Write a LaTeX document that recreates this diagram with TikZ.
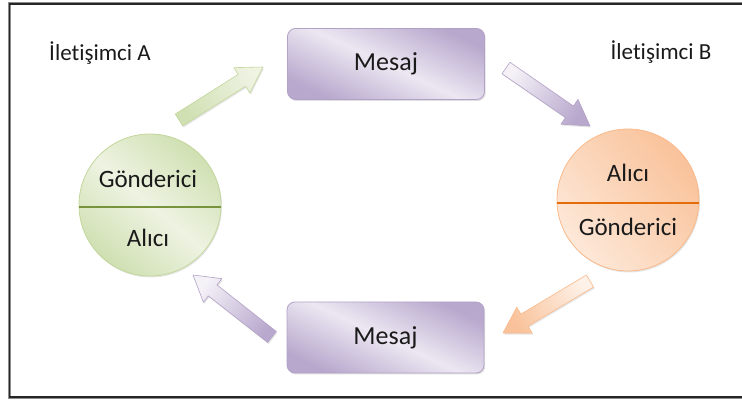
\documentclass[tikz,border=0pt]{standalone}
\usepackage{fontspec}
\setmainfont{Carlito}[Ligatures=NoCommon]
\usetikzlibrary{calc,shadows}

\definecolor{txt}{HTML}{1A1A1A}
\definecolor{grnLine}{HTML}{77933C}
\definecolor{grnEdge}{HTML}{C3D69B}
\definecolor{grnDark}{HTML}{D0E0B2}
\definecolor{grnLight}{HTML}{EEF3E2}
\definecolor{orgLine}{HTML}{E46C0A}
\definecolor{orgEdge}{HTML}{F9B98A}
\definecolor{orgDark}{HTML}{F9C29A}
\definecolor{orgLight}{HTML}{FDE8D8}
\definecolor{purEdge}{HTML}{B3A2C7}
\definecolor{purDark}{HTML}{B8A8CD}
\definecolor{purLight}{HTML}{ECE7F2}

\tikzset{
  label text/.style={font=\fontsize{23}{27}\selectfont, text=txt},
  disc text/.style={font=\fontsize{25}{29}\selectfont, text=txt},
  msgbox/.style={draw=purEdge, line width=0.8pt, rounded corners=8pt,
    minimum width=197pt, minimum height=71pt,
    shading=axis, top color=purDark, bottom color=purDark, middle color=purLight,
    shading angle=-25, font=\fontsize{26}{30}\selectfont, text=txt,
    drop shadow={opacity=0.25, shadow xshift=1.2pt, shadow yshift=-1.5pt}},
  disc/.style={circle, draw=#1Edge, line width=0.8pt, minimum size=142pt,
    drop shadow={opacity=0.2, shadow xshift=1pt, shadow yshift=-1.5pt}},
  blk/.style={line width=0.6pt, drop shadow={opacity=0.2, shadow xshift=1pt, shadow yshift=-1.5pt}},
}

% block arrow from #1 (tail) to #2 (tip), options #3
\newcommand\blockarrow[3]{%
  \coordinate (ba-h) at ($(#2)!25pt!(#1)$);
  \draw[blk,#3] ($(#1)!7pt!90:(#2)$) -- ($(ba-h)!7pt!90:(#2)$)
    -- ($(ba-h)!15pt!90:(#2)$) -- (#2) -- ($(ba-h)!15pt!-90:(#2)$)
    -- ($(ba-h)!7pt!-90:(#2)$) -- ($(#1)!7pt!-90:(#2)$) -- cycle;
}

\begin{document}
\begin{tikzpicture}[x=1pt,y=1pt]
\useasboundingbox (0,0) rectangle (742,-403);

% outer frame
\draw[line width=3pt, black!45] (9,-3.5) rectangle (760,-397.5);
\draw[line width=1.4pt, black!85] (9.5,-4) rectangle (760,-397);

% side labels
\node[label text] (la) at (100,-53) {İletişimci A};
\node[label text] (lb) at (661,-52) {İletişimci B};

% message boxes
\node[msgbox] (mtop) at (386,-64) {Mesaj};
\node[msgbox] (mbot) at (385.5,-337.5) {Mesaj};

% communicator A
\node[disc=grn, shading=axis, top color=grnDark, bottom color=grnDark,
      middle color=grnLight, shading angle=-40] (ca) at (150,-205) {};
\draw[grnLine, line width=1.6pt] ($(ca.center)+(-70.6,-2)$) -- ($(ca.center)+(70.6,-2)$);
\node[disc text] (ca1) at (148,-179) {Gönderici};
\node[disc text] (ca2) at (148,-238) {Alıcı};

% communicator B
\node[disc=org, shading=axis, top color=orgDark, bottom color=orgLight,
      shading angle=-50] (cb) at (628,-200) {};
\draw[orgLine, line width=1.6pt] ($(cb.center)+(-70.8,-3)$) -- ($(cb.center)+(70.8,-3)$);
\node[disc text] (cb1) at (628,-173) {Alıcı};
\node[disc text] (cb2) at (628,-227) {Gönderici};

% arrow end points
\coordinate (g1) at (179,-120);  \coordinate (g2) at (263,-67);
\coordinate (p1) at (506,-68);   \coordinate (p2) at (590,-126);
\coordinate (o1) at (590,-281);  \coordinate (o2) at (503,-333);
\coordinate (q1) at (272,-337);  \coordinate (q2) at (193,-275);

\blockarrow{g1}{g2}{draw=grnEdge, shading=axis, top color=grnLight, bottom color=grnDark, shading angle=-58}
\blockarrow{p1}{p2}{draw=purEdge, shading=axis, top color=purDark, bottom color=purLight!60!white, shading angle=-124}
\blockarrow{o1}{o2}{draw=orgEdge, shading=axis, top color=orgDark, bottom color=orgLight!60!white, shading angle=121}
\blockarrow{q1}{q2}{draw=purEdge, shading=axis, top color=purLight!60!white, bottom color=purDark, shading angle=52}
\end{tikzpicture}
\end{document}
